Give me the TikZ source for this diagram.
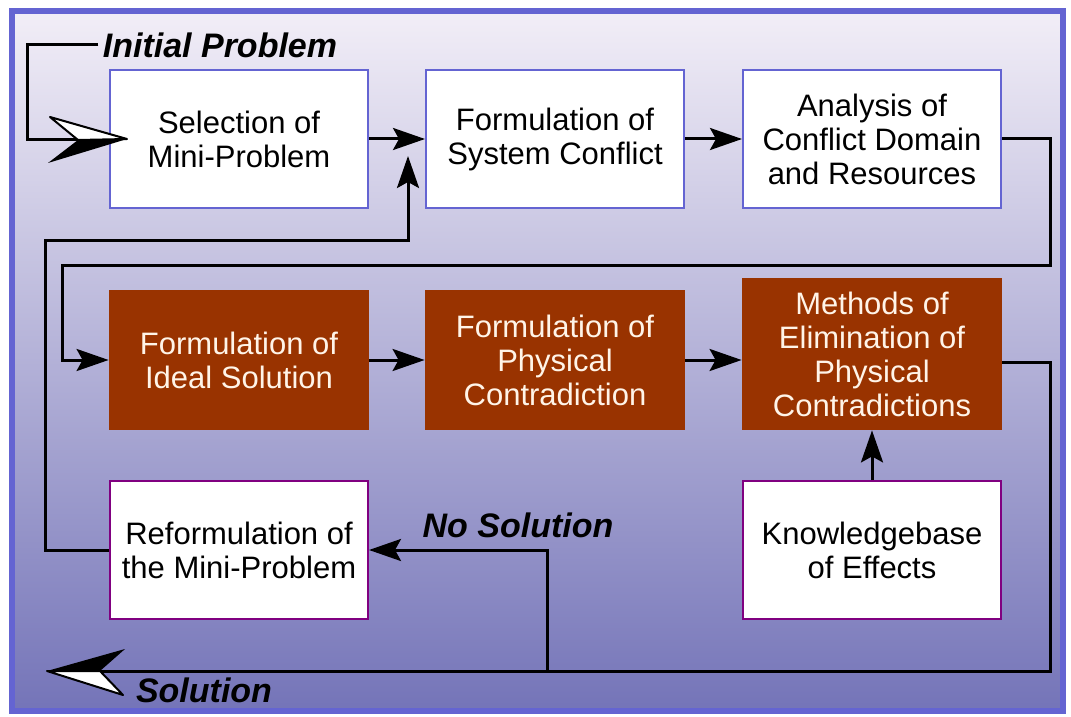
\documentclass[tikz,border=0pt]{standalone}
\usepackage{fontspec}
\setmainfont{Liberation Sans}
\usetikzlibrary{arrows.meta,positioning,calc}
\definecolor{TrizBlue}{RGB}{100,100,210}
\definecolor{TrizPurple}{RGB}{128,0,128}
\definecolor{TrizBrown}{RGB}{153,51,0}
\definecolor{TrizCream}{RGB}{255,244,232}
\definecolor{TrizTop}{RGB}{242,238,247}
\definecolor{TrizMid}{RGB}{192,186,222}
\definecolor{TrizBot}{RGB}{116,116,184}
\tikzset{
  wbox/.style={draw=TrizBlue,fill=white,line width=1pt,minimum width=129pt,minimum height=69pt,inner sep=0pt,align=center,font=\fontsize{15.5}{17}\selectfont},
  rbox/.style={fill=TrizBrown,text=TrizCream,minimum width=130pt,minimum height=70pt,inner sep=0pt,align=center,font=\fontsize{15.5}{17}\selectfont},
  mbox/.style={draw=TrizPurple,fill=white,line width=1pt,minimum width=129pt,minimum height=69pt,inner sep=0pt,align=center,font=\fontsize{15.5}{17}\selectfont},
  tag/.style={inner sep=2pt,font=\fontsize{17}{17}\bfseries\itshape\selectfont},
  lnk/.style={line width=1.5pt},
  arr/.style={-{Stealth[length=16pt,width=11pt,inset=3pt]},line width=1.5pt},
}
\begin{document}
\begin{tikzpicture}[x=0.5pt,y=-0.5pt]
  \fill[white] (0,0) rectangle (1071,717);
  \shade[top color=TrizTop,middle color=TrizMid,bottom color=TrizBot] (12,11) rectangle (1063,711);
  \draw[TrizBlue,line width=3pt] (12,11) rectangle (1063,711);

  % boxes
  \node[wbox] (sel) at (239,139) {Selection of\\Mini-Problem};
  \node[wbox] (sys) at (555,139) {Formulation of\\System Conflict};
  \node[wbox] (ana) at (872,139) {Analysis of\\Conflict Domain\\and Resources};
  \node[rbox] (ideal) at (239,360) {Formulation of\\Ideal Solution};
  \node[rbox] (phys) at (555,360) {Formulation of\\Physical\\Contradiction};
  \node[rbox,minimum height=76pt] (meth) at (872,354) {Methods of\\Elimination of\\Physical\\Contradictions};
  \node[mbox] (reform) at (239,550) {Reformulation of\\the Mini-Problem};
  \node[mbox] (know) at (872,550) {Knowledgebase\\of Effects};

  % labels
  \node[tag] (init) at (220,45) {Initial Problem};
  \node[tag] (nosol) at (518,525) {No Solution};
  \node[tag] (sol) at (204,690) {Solution};

  % corner points
  \coordinate (ibend) at (27,140);
  \coordinate (inotch) at (78,140);
  \coordinate (itip) at (127,139);
  \coordinate (r1) at (1050,265);
  \coordinate (l1) at (62,265);
  \coordinate (r2) at (1050,671);
  \coordinate (br) at (547,671);
  \coordinate (snotch) at (100,671);
  \coordinate (stip) at (47,671);
  \coordinate (l2) at (45,240);
  \coordinate (uptip) at (408,156);

  % connectors
  \draw[arr] (sel) -- (sys);
  \draw[arr] (sys) -- (ana);
  \draw[arr] (ideal) -- (phys);
  \draw[arr] (phys.east) -- (phys.east -| meth.west);
  \draw[arr] (know) -- (meth);
  \draw[arr] (ana.east) -| (r1) -- (l1) |- (ideal.west);
  \draw[lnk] ($(meth.east)+(0,8)$) -| (r2) -- (snotch);
  \draw[arr] (br) |- (reform.east);
  \draw[arr] (reform.west) -| (l2) -| (uptip);
  \draw[lnk] (init.west) -| (ibend) -- (inotch);

  % big arrow heads
  \fill[black] (itip) -- (inotch) -- (48,163) -- cycle;
  \filldraw[fill=white,draw=black,line width=1pt,line join=round] (itip) -- (50,117) -- (inotch) -- cycle;
  \fill[black] (stip) -- (125,649) -- (snotch) -- cycle;
  \filldraw[fill=white,draw=black,line width=1pt,line join=round] (stip) -- (snotch) -- (123,695) -- cycle;
\end{tikzpicture}
\end{document}
